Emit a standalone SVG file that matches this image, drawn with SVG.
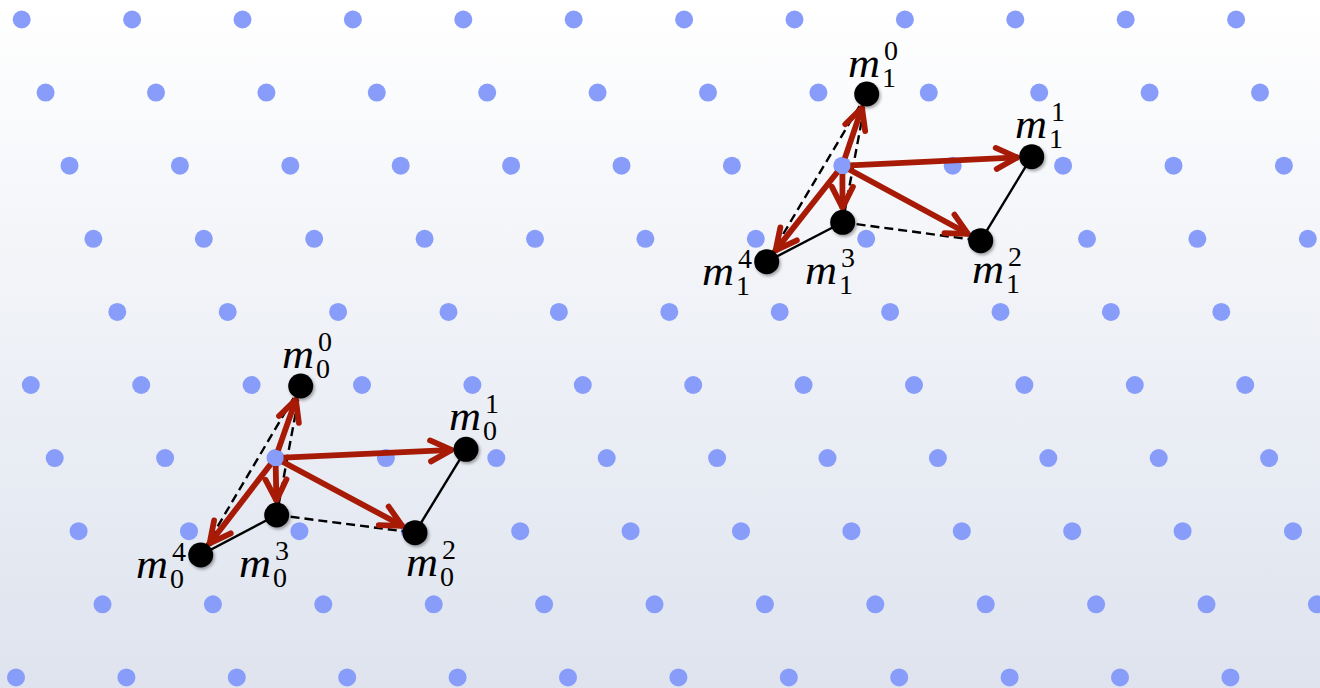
<svg xmlns="http://www.w3.org/2000/svg" width="1320" height="688" viewBox="0 0 1320 688">
<defs>
<linearGradient id="bg" x1="0" y1="0" x2="0" y2="1">
<stop offset="0" stop-color="#ffffff"/>
<stop offset="1" stop-color="#dee3ee"/>
</linearGradient>
<filter id="sh" x="-50%" y="-50%" width="200%" height="200%">
<feDropShadow dx="1.5" dy="2" stdDeviation="1.6" flood-color="#000" flood-opacity="0.35"/>
</filter>
<marker id="ah" markerUnits="userSpaceOnUse" viewBox="-28 -16 34 32" refX="1" refY="0" markerWidth="34" markerHeight="32" orient="auto">
<path d="M-21,-10.5 L0,0 L-21,10.5" fill="none" stroke="#a61a06" stroke-width="5.8" stroke-linecap="round" stroke-linejoin="round"/>
</marker>
<style>
.d{fill:#889dfa}
.n{fill:#000;filter:url(#sh)}
.e{stroke:#000;stroke-width:2.4;fill:none}
.ds{stroke-dasharray:9 5}
.a{stroke:#a61a06;stroke-width:5.8;fill:none;marker-end:url(#ah)}
.m{font-family:"Liberation Serif","DejaVu Serif",serif;font-style:italic;font-size:41px;fill:#000}
.s{font-family:"Liberation Serif","DejaVu Serif",serif;font-size:28px;fill:#000}
</style>
</defs>
<rect width="1320" height="688" fill="url(#bg)"/>
<g id="lattice">
<circle class="d" cx="21.7" cy="19.5" r="9"/><circle class="d" cx="132.1" cy="19.5" r="9"/><circle class="d" cx="242.5" cy="19.5" r="9"/><circle class="d" cx="352.9" cy="19.5" r="9"/><circle class="d" cx="463.3" cy="19.5" r="9"/><circle class="d" cx="573.7" cy="19.5" r="9"/><circle class="d" cx="684.1" cy="19.5" r="9"/><circle class="d" cx="794.5" cy="19.5" r="9"/><circle class="d" cx="904.9" cy="19.5" r="9"/><circle class="d" cx="1015.3" cy="19.5" r="9"/><circle class="d" cx="1125.7" cy="19.5" r="9"/><circle class="d" cx="1236.1" cy="19.5" r="9"/>
<circle class="d" cx="45.6" cy="92.6" r="9"/><circle class="d" cx="156" cy="92.6" r="9"/><circle class="d" cx="266.4" cy="92.6" r="9"/><circle class="d" cx="376.8" cy="92.6" r="9"/><circle class="d" cx="487.2" cy="92.6" r="9"/><circle class="d" cx="597.6" cy="92.6" r="9"/><circle class="d" cx="708" cy="92.6" r="9"/><circle class="d" cx="818.4" cy="92.6" r="9"/><circle class="d" cx="928.8" cy="92.6" r="9"/><circle class="d" cx="1039.2" cy="92.6" r="9"/><circle class="d" cx="1149.6" cy="92.6" r="9"/><circle class="d" cx="1260" cy="92.6" r="9"/>
<circle class="d" cx="69.5" cy="165.7" r="9"/><circle class="d" cx="179.9" cy="165.7" r="9"/><circle class="d" cx="290.3" cy="165.7" r="9"/><circle class="d" cx="400.7" cy="165.7" r="9"/><circle class="d" cx="511.1" cy="165.7" r="9"/><circle class="d" cx="621.5" cy="165.7" r="9"/><circle class="d" cx="731.9" cy="165.7" r="9"/><circle class="d" cx="842.3" cy="165.7" r="9"/><circle class="d" cx="952.7" cy="165.7" r="9"/><circle class="d" cx="1063.1" cy="165.7" r="9"/><circle class="d" cx="1173.5" cy="165.7" r="9"/><circle class="d" cx="1283.9" cy="165.7" r="9"/>
<circle class="d" cx="93.4" cy="238.8" r="9"/><circle class="d" cx="203.8" cy="238.8" r="9"/><circle class="d" cx="314.2" cy="238.8" r="9"/><circle class="d" cx="424.6" cy="238.8" r="9"/><circle class="d" cx="535" cy="238.8" r="9"/><circle class="d" cx="645.4" cy="238.8" r="9"/><circle class="d" cx="755.8" cy="238.8" r="9"/><circle class="d" cx="866.2" cy="238.8" r="9"/><circle class="d" cx="976.6" cy="238.8" r="9"/><circle class="d" cx="1087" cy="238.8" r="9"/><circle class="d" cx="1197.4" cy="238.8" r="9"/><circle class="d" cx="1307.8" cy="238.8" r="9"/>
<circle class="d" cx="117.3" cy="311.9" r="9"/><circle class="d" cx="227.7" cy="311.9" r="9"/><circle class="d" cx="338.1" cy="311.9" r="9"/><circle class="d" cx="448.5" cy="311.9" r="9"/><circle class="d" cx="558.9" cy="311.9" r="9"/><circle class="d" cx="669.3" cy="311.9" r="9"/><circle class="d" cx="779.7" cy="311.9" r="9"/><circle class="d" cx="890.1" cy="311.9" r="9"/><circle class="d" cx="1000.5" cy="311.9" r="9"/><circle class="d" cx="1110.9" cy="311.9" r="9"/><circle class="d" cx="1221.3" cy="311.9" r="9"/>
<circle class="d" cx="30.8" cy="385" r="9"/><circle class="d" cx="141.2" cy="385" r="9"/><circle class="d" cx="251.6" cy="385" r="9"/><circle class="d" cx="362" cy="385" r="9"/><circle class="d" cx="472.4" cy="385" r="9"/><circle class="d" cx="582.8" cy="385" r="9"/><circle class="d" cx="693.2" cy="385" r="9"/><circle class="d" cx="803.6" cy="385" r="9"/><circle class="d" cx="914" cy="385" r="9"/><circle class="d" cx="1024.4" cy="385" r="9"/><circle class="d" cx="1134.8" cy="385" r="9"/><circle class="d" cx="1245.2" cy="385" r="9"/>
<circle class="d" cx="54.7" cy="458.1" r="9"/><circle class="d" cx="165.1" cy="458.1" r="9"/><circle class="d" cx="275.5" cy="458.1" r="9"/><circle class="d" cx="385.9" cy="458.1" r="9"/><circle class="d" cx="496.3" cy="458.1" r="9"/><circle class="d" cx="606.7" cy="458.1" r="9"/><circle class="d" cx="717.1" cy="458.1" r="9"/><circle class="d" cx="827.5" cy="458.1" r="9"/><circle class="d" cx="937.9" cy="458.1" r="9"/><circle class="d" cx="1048.3" cy="458.1" r="9"/><circle class="d" cx="1158.7" cy="458.1" r="9"/><circle class="d" cx="1269.1" cy="458.1" r="9"/>
<circle class="d" cx="78.6" cy="531.2" r="9"/><circle class="d" cx="189" cy="531.2" r="9"/><circle class="d" cx="299.4" cy="531.2" r="9"/><circle class="d" cx="409.8" cy="531.2" r="9"/><circle class="d" cx="520.2" cy="531.2" r="9"/><circle class="d" cx="630.6" cy="531.2" r="9"/><circle class="d" cx="741" cy="531.2" r="9"/><circle class="d" cx="851.4" cy="531.2" r="9"/><circle class="d" cx="961.8" cy="531.2" r="9"/><circle class="d" cx="1072.2" cy="531.2" r="9"/><circle class="d" cx="1182.6" cy="531.2" r="9"/><circle class="d" cx="1293" cy="531.2" r="9"/>
<circle class="d" cx="102.5" cy="604.3" r="9"/><circle class="d" cx="212.9" cy="604.3" r="9"/><circle class="d" cx="323.3" cy="604.3" r="9"/><circle class="d" cx="433.7" cy="604.3" r="9"/><circle class="d" cx="544.1" cy="604.3" r="9"/><circle class="d" cx="654.5" cy="604.3" r="9"/><circle class="d" cx="764.9" cy="604.3" r="9"/><circle class="d" cx="875.3" cy="604.3" r="9"/><circle class="d" cx="985.7" cy="604.3" r="9"/><circle class="d" cx="1096.1" cy="604.3" r="9"/><circle class="d" cx="1206.5" cy="604.3" r="9"/><circle class="d" cx="1316.9" cy="604.3" r="9"/>
<circle class="d" cx="16" cy="677.4" r="9"/><circle class="d" cx="126.4" cy="677.4" r="9"/><circle class="d" cx="236.8" cy="677.4" r="9"/><circle class="d" cx="347.2" cy="677.4" r="9"/><circle class="d" cx="457.6" cy="677.4" r="9"/><circle class="d" cx="568" cy="677.4" r="9"/><circle class="d" cx="678.4" cy="677.4" r="9"/><circle class="d" cx="788.8" cy="677.4" r="9"/><circle class="d" cx="899.2" cy="677.4" r="9"/><circle class="d" cx="1009.6" cy="677.4" r="9"/><circle class="d" cx="1120" cy="677.4" r="9"/><circle class="d" cx="1230.4" cy="677.4" r="9"/>
</g>
<g id="connectors">
<g id="edges0">
<line class="e" x1="200.7" y1="555" x2="276.7" y2="515"/>
<line class="e ds" x1="276.7" y1="515" x2="415" y2="532.7"/>
<line class="e" x1="415" y1="532.7" x2="466" y2="449.3"/>
<line class="e ds" x1="300.7" y1="386" x2="200.7" y2="555"/>
<line class="e ds" x1="300.7" y1="386" x2="276.7" y2="515"/>
</g>
<g id="edges1">
<line class="e" x1="766.7" y1="261.7" x2="842.7" y2="222.3"/>
<line class="e ds" x1="842.7" y1="222.3" x2="980.7" y2="240.7"/>
<line class="e" x1="980.7" y1="240.7" x2="1031.7" y2="156.7"/>
<line class="e ds" x1="866.7" y1="94" x2="766.7" y2="261.7"/>
<line class="e ds" x1="866.7" y1="94" x2="842.7" y2="222.3"/>
</g>
<g id="arrows0">
<line class="a" x1="278.1" y1="450.4" x2="296.2" y2="398.7"/>
<line class="a" x1="283.5" y1="457.6" x2="452.5" y2="449.9"/>
<line class="a" x1="282.6" y1="461.8" x2="403.1" y2="526.3"/>
<line class="a" x1="275.7" y1="466" x2="276.4" y2="501.5"/>
<line class="a" x1="270.6" y1="464.3" x2="209" y2="544.3"/>
</g>
<g id="arrows1">
<line class="a" x1="844.9" y1="158.1" x2="862.3" y2="106.8"/>
<line class="a" x1="850.3" y1="165.3" x2="1018.2" y2="157.4"/>
<line class="a" x1="849.3" y1="169.5" x2="968.8" y2="234.3"/>
<line class="a" x1="842.4" y1="174" x2="842.5" y2="208.8"/>
<line class="a" x1="837.4" y1="172" x2="775" y2="251.1"/>
</g>
</g>
<g id="m0_0"><circle class="n" cx="300.7" cy="386" r="12.5"/><text class="m" x="282" y="368" textLength="32" lengthAdjust="spacingAndGlyphs">m</text><text class="s" x="316" y="378">0</text><text class="s" x="318" y="351">0</text></g>
<g id="m0_1"><circle class="n" cx="466" cy="449.3" r="12.5"/><text class="m" x="449" y="430" textLength="32" lengthAdjust="spacingAndGlyphs">m</text><text class="s" x="483" y="440">0</text><text class="s" x="485" y="413">1</text></g>
<g id="m0_2"><circle class="n" cx="415" cy="532.7" r="12.5"/><text class="m" x="406" y="576" textLength="32" lengthAdjust="spacingAndGlyphs">m</text><text class="s" x="440" y="586">0</text><text class="s" x="442" y="559">2</text></g>
<g id="m0_3"><circle class="n" cx="276.7" cy="515" r="12.5"/><text class="m" x="239" y="577" textLength="32" lengthAdjust="spacingAndGlyphs">m</text><text class="s" x="273" y="587">0</text><text class="s" x="275" y="560">3</text></g>
<g id="m0_4"><circle class="n" cx="200.7" cy="555" r="12.5"/><text class="m" x="136" y="578" textLength="32" lengthAdjust="spacingAndGlyphs">m</text><text class="s" x="170" y="588">0</text><text class="s" x="172" y="561">4</text></g>
<g id="m1_0"><circle class="n" cx="866.7" cy="94" r="12.5"/><text class="m" x="848" y="77" textLength="32" lengthAdjust="spacingAndGlyphs">m</text><text class="s" x="882" y="87">1</text><text class="s" x="884" y="60">0</text></g>
<g id="m1_1"><circle class="n" cx="1031.7" cy="156.7" r="12.5"/><text class="m" x="1015" y="138" textLength="32" lengthAdjust="spacingAndGlyphs">m</text><text class="s" x="1049" y="148">1</text><text class="s" x="1051" y="121">1</text></g>
<g id="m1_2"><circle class="n" cx="980.7" cy="240.7" r="12.5"/><text class="m" x="972" y="283" textLength="32" lengthAdjust="spacingAndGlyphs">m</text><text class="s" x="1006" y="293">1</text><text class="s" x="1008" y="266">2</text></g>
<g id="m1_3"><circle class="n" cx="842.7" cy="222.3" r="12.5"/><text class="m" x="805" y="284" textLength="32" lengthAdjust="spacingAndGlyphs">m</text><text class="s" x="839" y="294">1</text><text class="s" x="841" y="267">3</text></g>
<g id="m1_4"><circle class="n" cx="766.7" cy="261.7" r="12.5"/><text class="m" x="702" y="285" textLength="32" lengthAdjust="spacingAndGlyphs">m</text><text class="s" x="736" y="295">1</text><text class="s" x="738" y="268">4</text></g>
</svg>
